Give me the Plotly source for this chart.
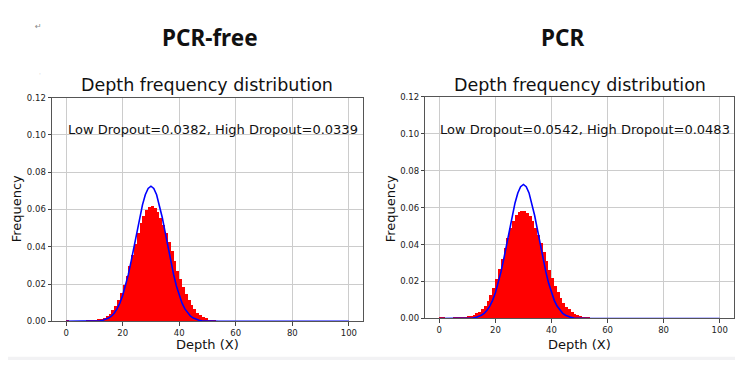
import plotly.graph_objects as go

# page body has an 8px default margin; the figure is sized to fill the rest
OFF = 8
W, H = 743 - OFF, 365 - OFF

# ---------------- data ----------------
bin_left = list(range(0, 56))

freq_pcr_free = [
    0.0006, 0.0003, 0.0002, 0.0002, 0.0003, 0.0003, 0.0004, 0.0005, 0.0006, 0.0008,
    0.0010, 0.0013, 0.0017, 0.0023, 0.0032, 0.0044, 0.0062, 0.0085, 0.0115, 0.0152,
    0.0196, 0.0245, 0.0300, 0.0360, 0.0420, 0.0478, 0.0530, 0.0570, 0.0600, 0.0618,
    0.0622, 0.0612, 0.0590, 0.0558, 0.0520, 0.0476, 0.0428, 0.0378, 0.0325, 0.0275,
    0.0228, 0.0185, 0.0148, 0.0116, 0.0089, 0.0067, 0.0050, 0.0036, 0.0026, 0.0018,
    0.0012, 0.0008, 0.0005, 0.0003, 0.0002, 0.0001,
]

freq_pcr = [
    0.0007, 0.0005, 0.0004, 0.0004, 0.0004, 0.0005, 0.0006, 0.0007, 0.0009, 0.0011,
    0.0014, 0.0018, 0.0023, 0.0030, 0.0040, 0.0054, 0.0072, 0.0096, 0.0128, 0.0168,
    0.0215, 0.0268, 0.0325, 0.0385, 0.0440, 0.0490, 0.0530, 0.0560, 0.0578, 0.0586,
    0.0585, 0.0575, 0.0556, 0.0528, 0.0494, 0.0455, 0.0410, 0.0362, 0.0313, 0.0265,
    0.0220, 0.0180, 0.0144, 0.0113, 0.0088, 0.0067, 0.0051, 0.0038, 0.0028, 0.0020,
    0.0014, 0.0010, 0.0007, 0.0005, 0.0003, 0.0002,
]

curve_depth = list(range(0, 61)) + [100]
curve_freq = [
    0.0000, 0.0000, 0.0000, 0.0000, 0.0000, 0.0000, 0.0000, 0.0000, 0.0000, 0.0000,
    0.0001, 0.0002, 0.0003, 0.0006, 0.0011, 0.0018, 0.0028, 0.0044, 0.0067, 0.0098,
    0.0139, 0.0190, 0.0252, 0.0323, 0.0400, 0.0480, 0.0557, 0.0625, 0.0679, 0.0713,
    0.0725, 0.0713, 0.0679, 0.0625, 0.0557, 0.0480, 0.0400, 0.0323, 0.0252, 0.0190,
    0.0139, 0.0098, 0.0067, 0.0044, 0.0028, 0.0018, 0.0011, 0.0006, 0.0003, 0.0002,
    0.0001, 0.0000, 0.0000, 0.0000, 0.0000, 0.0000, 0.0000, 0.0000, 0.0000, 0.0000,
    0.0000, 0.0000,
]

panel_titles = ["PCR-free", "PCR"]
dropout_texts = [
    "Low Dropout=0.0382, High Dropout=0.0339",
    "Low Dropout=0.0542, High Dropout=0.0483",
]
x_ticks = [0, 20, 40, 60, 80, 100]
y_ticks = [0.00, 0.02, 0.04, 0.06, 0.08, 0.10, 0.12]

# ---------------- figure ----------------
def px(x):
    return (x - OFF) / W

def py(y):
    return 1 - (y - OFF) / H

fig = go.Figure()

panels = [
    dict(freq=freq_pcr_free, xa="x", ya="y", x0=52, x1=363, y0=325.3, y1=95,
         cx=207.5, tx=210, ax=212.5, fy=16),
    dict(freq=freq_pcr, xa="x2", ya="y2", x0=425.3, x1=733.7, y0=322.3, y1=94,
         cx=579.5, tx=562, ax=584.5, fy=390),
]

for i, p in enumerate(panels):
    fig.add_trace(go.Bar(
        x=[b + 0.5 for b in bin_left], y=p["freq"], width=1,
        marker=dict(color="#ff0000", line=dict(width=0)),
        xaxis=p["xa"], yaxis=p["ya"], showlegend=False,
    ))
    fig.add_trace(go.Scatter(
        x=curve_depth, y=curve_freq, mode="lines",
        line=dict(color="#0000ff", width=1.6),
        xaxis=p["xa"], yaxis=p["ya"], showlegend=False,
    ))

axis_common = dict(
    showline=True, mirror=True, linecolor="#555555", linewidth=1,
    showgrid=True, gridcolor="#cccccc", gridwidth=1,
    ticks="outside", ticklen=3.5, tickwidth=0.8, tickcolor="#444444",
    tickfont=dict(family="DejaVu Sans", size=8.5, color="#222222"),
    zeroline=False,
)

layout = dict(
    width=W, height=H, margin=dict(l=0, r=0, t=0, b=0),
    paper_bgcolor="white", plot_bgcolor="white", bargap=0,
    barmode="overlay",
)

for i, p in enumerate(panels):
    sx = "" if i == 0 else str(i + 1)
    layout["xaxis" + sx] = dict(axis_common, domain=[px(p["x0"]), px(p["x1"])],
                                range=[-5, 105], tickvals=x_ticks, anchor=p["ya"])
    layout["yaxis" + sx] = dict(axis_common, domain=[py(p["y0"]), py(p["y1"])],
                                range=[0, 0.12], tickvals=y_ticks, tickformat=".2f",
                                anchor=p["xa"])

fig.update_layout(**layout)

ann = []
for i, p in enumerate(panels):
    ann.append(dict(text="<b>" + panel_titles[i] + "</b>", x=px(p["tx"]), y=py(33),
                    xref="paper", yref="paper", showarrow=False,
                    xanchor="center", yanchor="middle",
                    font=dict(family="Noto Sans", size=22.5, color="#111111")))
    ann.append(dict(text="Depth frequency distribution", x=px(p["cx"]), y=py(82.5),
                    xref="paper", yref="paper", showarrow=False,
                    xanchor="center", yanchor="middle",
                    font=dict(family="DejaVu Sans", size=17.5, color="#111111")))
    ann.append(dict(text=dropout_texts[i], x=px(p["ax"]), y=py(128),
                    xref="paper", yref="paper", showarrow=False,
                    xanchor="center", yanchor="middle",
                    font=dict(family="DejaVu Sans", size=13, color="#111111")))
    ann.append(dict(text="Depth (X)", x=px((p["x0"] + p["x1"]) / 2), y=py(349),
                    xref="paper", yref="paper", showarrow=False,
                    xanchor="center", yanchor="middle",
                    font=dict(family="DejaVu Sans", size=13, color="#111111")))
    ann.append(dict(text="Frequency", x=px(p["fy"]), y=py(210), textangle=-90,
                    xref="paper", yref="paper", showarrow=False,
                    xanchor="center", yanchor="middle",
                    font=dict(family="DejaVu Sans", size=13, color="#111111")))

ann.append(dict(text="↵", x=px(39), y=py(22), xref="paper", yref="paper", showarrow=False,
                xanchor="center", yanchor="middle",
                font=dict(family="DejaVu Sans", size=8, color="#888888")))
ann.append(dict(text="·", x=px(40), y=py(70), xref="paper", yref="paper", showarrow=False,
                xanchor="center", yanchor="middle",
                font=dict(family="DejaVu Sans", size=6, color="#aaaaaa")))

fig.update_layout(annotations=ann)

fig.add_shape(type="rect", xref="paper", yref="paper", x0=0, x1=1, y0=0, y1=py(361.7),
              fillcolor="#f2f2f4", line=dict(width=0), layer="below")

fig.write_html("out.html")
